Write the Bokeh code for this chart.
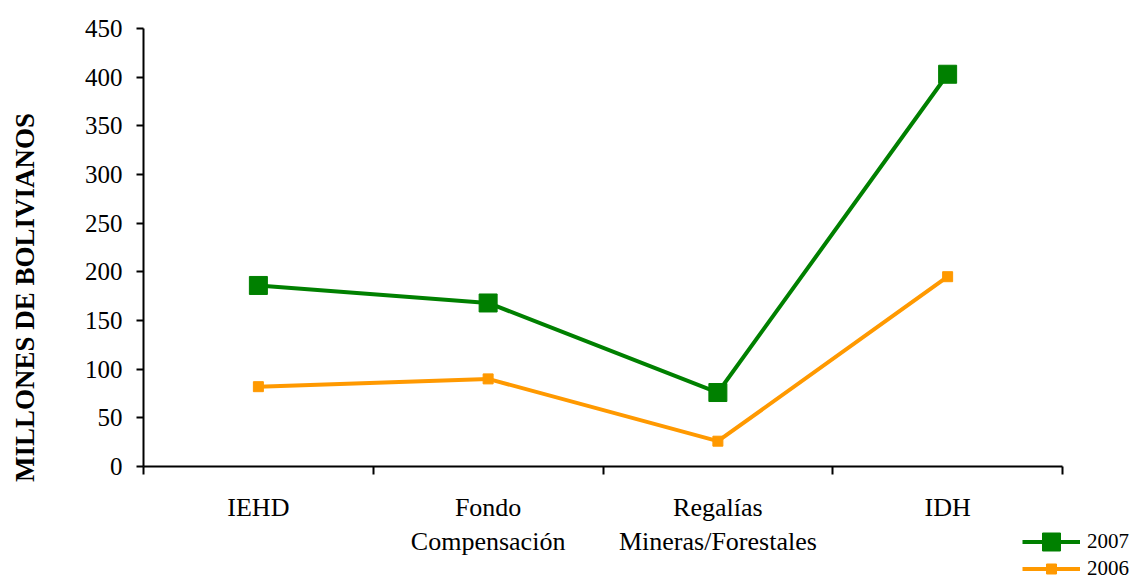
from bokeh.plotting import figure
from bokeh.models import Range1d, FixedTicker, Legend, LegendItem, Label, ColumnDataSource
from bokeh.embed import file_html
from bokeh.resources import INLINE
import math

categories = ["IEHD", "Fondo\nCompensación", "Regalías\nMineras/Forestales", "IDH"]
series_2007 = [186, 168, 76, 403]
series_2006 = [82, 90, 26, 195]
y_ticks = [0, 50, 100, 150, 200, 250, 300, 350, 400, 450]
y_label = "MILLONES DE BOLIVIANOS"
legend_labels = ["2007", "2006"]

FONT = "Liberation Serif"
GREEN = "#008000"
ORANGE = "#FF9900"

W, H = 1136, 581
# pixel layout of the plotting area inside the canvas
AX_L, AX_R, AX_T, AX_B = 143, 1062, 28, 466
n = len(categories)
ymax = y_ticks[-1]
xpp = (AX_R - AX_L) / n          # pixels per category
ypp = (AX_B - AX_T) / ymax       # pixels per unit

x_range = Range1d(-AX_L / xpp, n + (W - AX_R) / xpp)
y_range = Range1d(-(H - AX_B) / ypp, ymax + AX_T / ypp)

xs = [i + 0.5 for i in range(n)]

p = figure(width=W, height=H, title=None, min_border=0,
           x_range=x_range, y_range=y_range,
           output_backend="svg", toolbar_location=None)
p.outline_line_color = None
p.xgrid.visible = False
p.ygrid.visible = False
p.background_fill_color = "white"
p.border_fill_color = "white"

# x axis, pinned at y = 0
xa = p.xaxis[0]
xa.fixed_location = 0
xa.bounds = (0, n)
xa.ticker = FixedTicker(ticks=xs, minor_ticks=list(range(n + 1)))
xa.major_label_overrides = {x: c for x, c in zip(xs, categories)}
xa.major_tick_line_color = None
xa.minor_tick_line_color = "black"
xa.minor_tick_line_width = 2
xa.minor_tick_out = 8
xa.minor_tick_in = 0
xa.axis_line_color = "black"
xa.axis_line_width = 2
xa.major_label_text_font = FONT
xa.major_label_text_font_size = "26px"
xa.major_label_text_color = "black"
xa.major_label_text_line_height = 1.2
xa.major_label_standoff = 18

# y axis, pinned at x = 0
ya = p.yaxis[0]
ya.fixed_location = 0
ya.bounds = (0, ymax)
ya.ticker = FixedTicker(ticks=y_ticks, minor_ticks=[])
ya.axis_line_color = "black"
ya.axis_line_width = 2
ya.major_tick_line_color = "black"
ya.major_tick_line_width = 2
ya.major_tick_out = 7
ya.major_tick_in = 0
ya.minor_tick_line_color = None
ya.major_label_text_font = FONT
ya.major_label_text_font_size = "25px"
ya.major_label_text_color = "black"
ya.major_label_standoff = 14

src = ColumnDataSource(dict(x=xs, y07=series_2007, y06=series_2006))

l06 = p.line("x", "y06", source=src, line_color=ORANGE, line_width=4)
m06 = p.scatter("x", "y06", source=src, marker="square", size=10,
                fill_color=ORANGE, line_color=ORANGE)
l07 = p.line("x", "y07", source=src, line_color=GREEN, line_width=4)
m07 = p.scatter("x", "y07", source=src, marker="square", size=18,
                fill_color=GREEN, line_color=GREEN)

# vertical axis title
p.add_layout(Label(x=24, y=H - 297, x_units="screen", y_units="screen",
                   text=y_label, angle=math.pi / 2, text_align="center",
                   text_baseline="middle", text_font=FONT, text_font_style="bold",
                   text_font_size="27px", text_color="black"))

# two legends so that each keeps its own marker size (legend marker = 0.4 * glyph box)
leg_style = dict(padding=0, margin=0, border_line_color=None, background_fill_alpha=0,
                 glyph_width=58, label_standoff=7, label_text_font=FONT,
                 label_text_font_size="21px", label_text_color="black")
leg07 = Legend(items=[LegendItem(label=legend_labels[0], renderers=[l07, m07])],
               location=(1022, H - 542 - 22), glyph_height=45, label_height=45, **leg_style)
leg06 = Legend(items=[LegendItem(label=legend_labels[1], renderers=[l06, m06])],
               location=(1022, H - 569 - 12), glyph_height=25, label_height=24, **leg_style)
p.add_layout(leg07)
p.add_layout(leg06)

open("out.html", "w").write(file_html(p, INLINE))
